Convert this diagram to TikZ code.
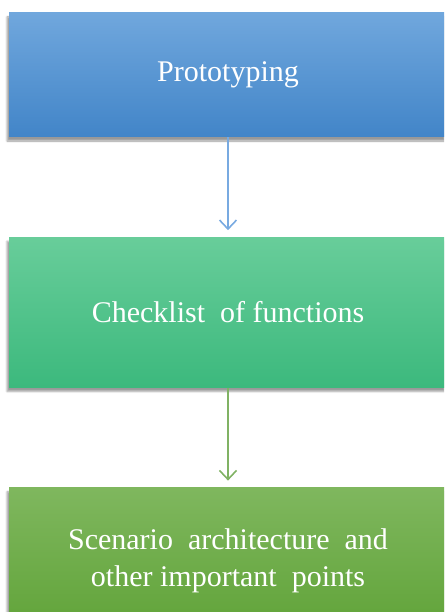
\documentclass[tikz,border=0pt]{standalone}
\usepackage{fontspec}
\setmainfont{Liberation Serif}
\usetikzlibrary{positioning,arrows.meta,shadows.blur}
\begin{document}
\begin{tikzpicture}[
   x=1pt, y=1pt,
   node distance=100pt,
   every node/.style={minimum width=438pt, inner sep=0pt, align=center,
       text=white, font=\fontsize{30}{37}\selectfont,
       blur shadow={shadow xshift=-2pt, shadow yshift=-4pt, shadow blur steps=6, shadow opacity=40}},
   stepbox/.style={shading angle=0},
   link/.style={line width=1.6pt, shorten >=7pt,
       -{Straight Barb[length=9pt, width=17pt, line width=1.6pt]}}]

\useasboundingbox (0,0) rectangle (444,-612);
\clip (0,0) rectangle (444,-612);

\node[stepbox, minimum height=124pt, top color={rgb,255:red,112;green,167;blue,221},
      bottom color={rgb,255:red,66;green,133;blue,200}]
      (proto) at (228,-75) {Prototyping};
\node[stepbox, minimum height=150pt, below=of proto, top color={rgb,255:red,104;green,205;blue,154},
      bottom color={rgb,255:red,60;green,185;blue,125}]
      (check) {Checklist \ of functions};
\node[stepbox, minimum height=146pt, below=of check, top color={rgb,255:red,127;green,183;blue,94},
      bottom color={rgb,255:red,96;green,163;blue,56}]
      (scen) {Scenario \ architecture \ and\\other important \ points};

\draw[link, color={rgb,255:red,120;green,170;blue,225}] (proto) -- (check);
\draw[link, color={rgb,255:red,128;green,178;blue,100}] (check) -- (scen);

\end{tikzpicture}
\end{document}
